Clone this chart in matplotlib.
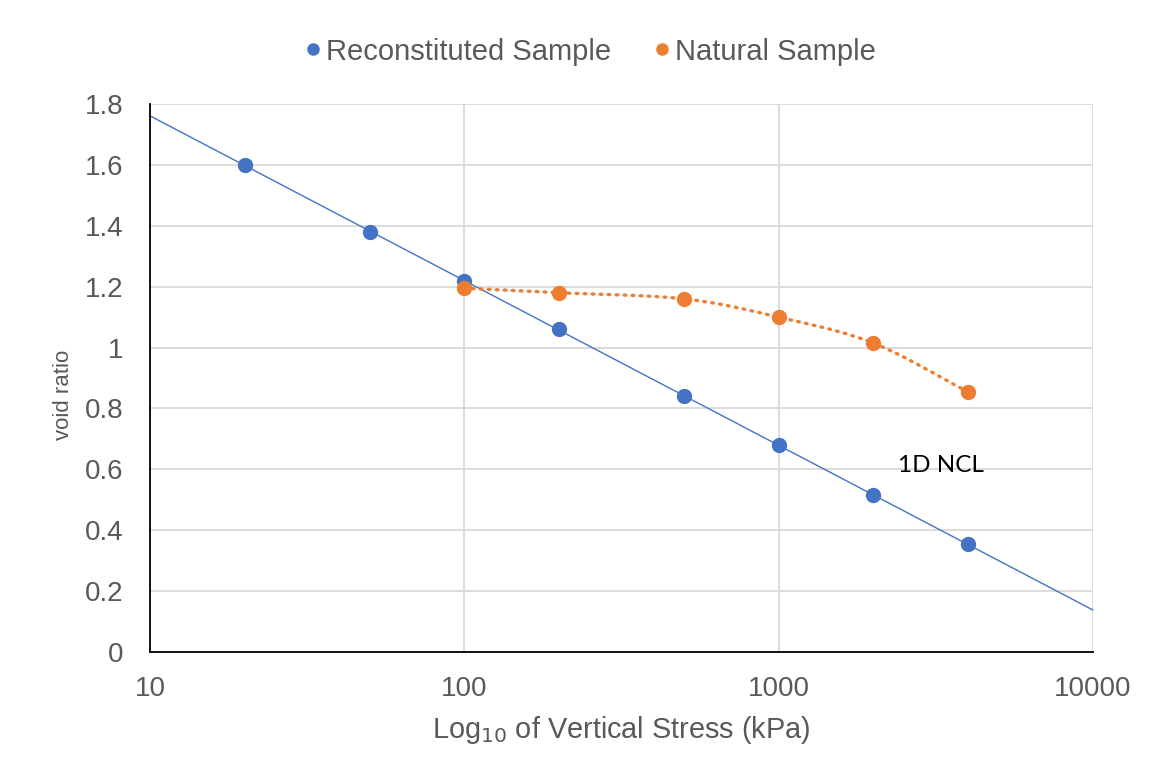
import numpy as np
import matplotlib
matplotlib.use("Agg")
from matplotlib import pyplot as plt

# data
stress_recon = [20, 50, 100, 200, 500, 1000, 2000, 4000]
void_recon = [1.60, 1.38, 1.22, 1.06, 0.84, 0.68, 0.515, 0.355]
stress_nat = [100, 200, 500, 1000, 2000, 4000]
void_nat = [1.195, 1.18, 1.16, 1.10, 1.015, 0.855]

x_ticks = [10, 100, 1000, 10000]
x_tick_labels = ['10', '100', '1000', '10000']
y_ticks = [0, 0.2, 0.4, 0.6, 0.8, 1, 1.2, 1.4, 1.6, 1.8]
y_tick_labels = ['0', '0.2', '0.4', '0.6', '0.8', '1', '1.2', '1.4', '1.6', '1.8']

BLUE = '#4472C4'
ORANGE = '#ED7D31'
TEXT = '#595959'
GRID = '#D9D9D9'

plt.rcParams['font.family'] = ['Liberation Sans', 'DejaVu Sans']


def catmull_rom(xs, ys, n=30):
    """Smooth curve through points (Excel-like smoothed line)"""
    pts = np.column_stack([xs, ys])
    pts = np.vstack([pts[0] - (pts[1] - pts[0]), pts, pts[-1] + (pts[-1] - pts[-2])])
    out = []
    t = np.linspace(0, 1, n)[:, None]
    for i in range(1, len(pts) - 2):
        p0, p1, p2, p3 = pts[i - 1], pts[i], pts[i + 1], pts[i + 2]
        seg = 0.5 * ((2 * p1) + (-p0 + p2) * t + (2 * p0 - 5 * p1 + 4 * p2 - p3) * t ** 2
                     + (-p0 + 3 * p1 - 3 * p2 + p3) * t ** 3)
        out.append(seg)
    out = np.vstack(out)
    return out[:, 0], out[:, 1]


fig = plt.figure(figsize=(11.54, 7.69), dpi=100)
ax = fig.add_axes([0.13, 0.152, 0.817, 0.7128])

# linear trendline in log space for reconstituted sample (1D NCL)
slope, intercept = np.polyfit(np.log10(stress_recon), void_recon, 1)
xl = np.array([1.0, 4.0])
ax.plot(10 ** xl, slope * xl + intercept, color=BLUE, lw=1.0, zorder=2, clip_on=False)

# smoothed dotted line for natural sample
sx, sy = catmull_rom(np.log10(stress_nat), np.array(void_nat))
ax.plot(10 ** sx, sy, color=ORANGE, lw=2.4, ls=(0, (0.5, 1.9)), dash_capstyle='round', zorder=2)

ax.plot(stress_recon, void_recon, 'o', color=BLUE, ms=10, label='Reconstituted Sample', zorder=3)
ax.plot(stress_nat, void_nat, 'o', color=ORANGE, ms=10, label='Natural Sample', zorder=4)

ax.set_xscale('log')
ax.set_xlim(10, 10000)
ax.set_ylim(0, 1.8)
ax.set_xticks(x_ticks)
ax.set_xticklabels(x_tick_labels)
ax.minorticks_off()
ax.set_yticks(y_ticks)
ax.set_yticklabels(y_tick_labels)
ax.tick_params(length=0, labelsize=20, labelcolor=TEXT)
ax.tick_params(axis='x', pad=17)
ax.tick_params(axis='y', pad=19)

ax.grid(True, color=GRID, lw=1.3)
ax.set_axisbelow(True)
for s in ['top', 'right']:
    ax.spines[s].set_visible(False)
for s in ['left', 'bottom']:
    ax.spines[s].set_color('black')
    ax.spines[s].set_linewidth(1.3)

ax.set_xlabel('Log$_{10}$ of Vertical Stress (kPa)', fontsize=20.8, color=TEXT, va='center')
ax.xaxis.set_label_coords(0.5, -0.142)
ax.set_ylabel('void ratio', fontsize=16, color=TEXT, va='center')
ax.yaxis.set_label_coords(-0.092, 0.47)

ax.text(2400, 0.59, '1D NCL', fontsize=17.5, color='black', family=['Lato', 'DejaVu Sans'],
        va='baseline', ha='left')

fig.legend(*ax.get_legend_handles_labels(), loc='center', bbox_to_anchor=(0.509, 0.933),
           ncol=2, frameon=False, fontsize=21, labelcolor=TEXT, handlelength=1.0,
           handletextpad=-0.05, columnspacing=1.25, markerscale=0.8)

fig.savefig('out.png', dpi=100)
